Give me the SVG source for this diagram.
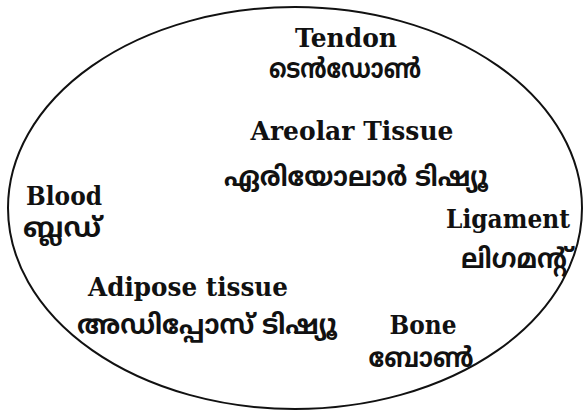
<svg xmlns="http://www.w3.org/2000/svg" width="585" height="410" viewBox="0 0 585 410">
<style>
.en{font-family:"DejaVu Serif","Liberation Serif",serif;font-weight:bold;font-size:26px;fill:#111;text-anchor:middle}
.ml{font-family:"Noto Sans Malayalam","Noto Sans","DejaVu Sans",sans-serif;font-weight:bold;font-size:27px;fill:#111;text-anchor:middle}
</style>
<rect width="585" height="410" fill="#fff"/>
<g id="connectors">
<ellipse cx="295" cy="208" rx="287" ry="201" fill="none" stroke="#111" stroke-width="2"/>
</g>
<g id="tendon"><text class="en" x="346" y="47" textLength="102" lengthAdjust="spacingAndGlyphs">Tendon</text><text class="ml" x="345" y="78" textLength="152" lengthAdjust="spacingAndGlyphs">ടെൻഡോൺ</text></g>
<g id="areolar"><text class="en" x="352" y="140" textLength="203" lengthAdjust="spacingAndGlyphs">Areolar Tissue</text><text class="ml" x="356" y="186" textLength="264" lengthAdjust="spacingAndGlyphs">ഏരിയോലാർ ടിഷ്യൂ</text></g>
<g id="blood"><text class="en" x="64" y="205" textLength="76" lengthAdjust="spacingAndGlyphs">Blood</text><text class="ml" x="62" y="237" textLength="78" lengthAdjust="spacingAndGlyphs">ബ്ലഡ്</text></g>
<g id="ligament"><text class="en" x="508" y="228" textLength="124" lengthAdjust="spacingAndGlyphs">Ligament</text><text class="ml" x="514" y="268" textLength="106" lengthAdjust="spacingAndGlyphs">ലിഗമന്റ്</text></g>
<g id="adipose"><text class="en" x="188" y="296" textLength="200" lengthAdjust="spacingAndGlyphs">Adipose tissue</text><text class="ml" x="207" y="334" textLength="260" lengthAdjust="spacingAndGlyphs">അഡിപ്പോസ് ടിഷ്യൂ</text></g>
<g id="bone"><text class="en" x="423" y="334" textLength="67" lengthAdjust="spacingAndGlyphs">Bone</text><text class="ml" x="421" y="367" textLength="105" lengthAdjust="spacingAndGlyphs">ബോൺ</text></g>
</svg>
